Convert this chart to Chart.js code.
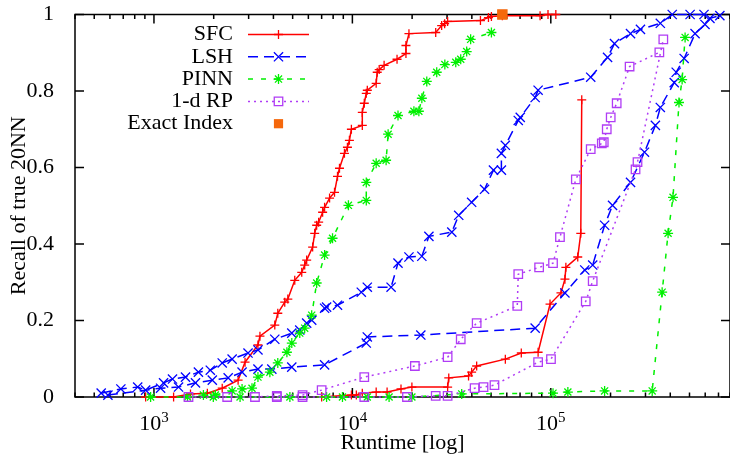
<!DOCTYPE html>
<html>
<head>
<meta charset="utf-8">
<script src="https://cdn.jsdelivr.net/npm/chart.js"></script>
<style>
  body { margin: 0; background: #fff; }
  canvas { display: block; }
</style>
</head>
<body>
<canvas id="myChart" width="730" height="454"></canvas>
<script>
// runtimes and recall, one pair of arrays per curve
const sfcTimeA = [908, 1256, 1528, 1858, 2208, 2655, 2878, 3343, 3421, 4064, 4208, 4561, 4727, 5124, 5556, 5750, 5884, 6305, 6457, 6607, 6761, 7080, 7244, 7674, 8128, 8414, 8610, 9120, 9441, 9661, 9886, 11220, 11220, 11480, 11750, 11890, 13180, 13340, 13650, 14450, 16790, 18620, 18620, 19280, 26300, 28180, 29170, 30200, 44200, 48500, 50200, 57000, 88300, 96800, 106000];
const sfcRecallA = [0, 0, 0.008, 0.010, 0.023, 0.044, 0.091, 0.136, 0.159, 0.188, 0.219, 0.248, 0.256, 0.305, 0.326, 0.345, 0.358, 0.392, 0.428, 0.449, 0.457, 0.483, 0.496, 0.520, 0.535, 0.577, 0.598, 0.637, 0.653, 0.671, 0.700, 0.710, 0.744, 0.768, 0.794, 0.802, 0.820, 0.849, 0.856, 0.867, 0.883, 0.898, 0.919, 0.950, 0.953, 0.971, 0.976, 0.982, 0.984, 0.992, 0.995, 0.997, 0.997, 1, 1];
const sfcTimeB = [7000, 9886, 10470, 11220, 13180, 14960, 17580, 19950, 30200, 30600, 38500, 39900, 42300, 59000, 71000, 86300, 99100, 112500, 117800, 119100, 136700, 141600, 143200];
const sfcRecallB = [0, 0.005, 0.005, 0.010, 0.013, 0.013, 0.021, 0.026, 0.026, 0.050, 0.055, 0.065, 0.081, 0.099, 0.115, 0.117, 0.243, 0.272, 0.308, 0.339, 0.366, 0.428, 0.777];

const lshTimeA = [542, 681, 828, 908, 1118, 1240, 1442, 1675, 1923, 2208, 2477, 2979, 3343, 4064, 4950, 5430, 5884, 6237, 7244, 7413, 8414, 11090, 11890, 15670, 16980, 19280, 22390, 24300, 31700, 34350, 39900, 46350, 51400, 56360, 56360, 59000, 68550, 70150, 83400, 86300, 158900, 193200, 209400, 252200, 283000, 356400, 409200, 503500, 591600];
const lshRecallA = [0.010, 0.021, 0.026, 0.018, 0.037, 0.047, 0.052, 0.065, 0.070, 0.089, 0.099, 0.115, 0.123, 0.151, 0.167, 0.175, 0.193, 0.201, 0.232, 0.235, 0.240, 0.274, 0.287, 0.287, 0.350, 0.366, 0.368, 0.420, 0.431, 0.475, 0.509, 0.543, 0.593, 0.593, 0.637, 0.658, 0.723, 0.731, 0.783, 0.802, 0.836, 0.888, 0.924, 0.950, 0.961, 0.977, 1, 1, 1];
const lshTimeB = [586, 1080, 1330, 1619, 1968, 2366, 2780, 3343, 3926, 4950, 7244, 11750, 11890, 22130, 83400, 117800, 148300, 162600, 186700, 204700, 252200, 296500, 336500, 356400, 418800, 428500, 469900, 533400, 598400, 633900, 711200];
const lshRecallB = [0.005, 0.023, 0.026, 0.037, 0.044, 0.050, 0.065, 0.073, 0.073, 0.078, 0.084, 0.141, 0.157, 0.162, 0.180, 0.272, 0.332, 0.345, 0.449, 0.501, 0.561, 0.640, 0.710, 0.757, 0.822, 0.849, 0.885, 0.950, 0.974, 0.990, 0.997];

const pinnTimeA = [962, 1476, 1775, 2038, 2477, 2780, 3119, 3343, 3838, 4208, 4677, 4950, 5430, 5750, 6237, 6607, 7244, 7943, 9550, 11750, 11750, 13180, 14790, 15140, 16980, 20420, 21630, 22390, 23710, 26610, 29240, 33190, 35160, 37670, 39450, 50200];
const pinnRecallA = [0, 0, 0.005, 0.005, 0.016, 0.021, 0.023, 0.052, 0.065, 0.089, 0.117, 0.141, 0.167, 0.180, 0.214, 0.298, 0.371, 0.415, 0.501, 0.514, 0.561, 0.611, 0.619, 0.687, 0.736, 0.747, 0.747, 0.781, 0.825, 0.849, 0.869, 0.875, 0.883, 0.903, 0.935, 0.953];
const pinnTimeB = [1991, 2716, 4842, 7413, 8913, 11890, 15310, 19950, 35560, 102600, 121900, 186700, 324300, 364000, 390000, 413000, 442600, 459000, 475100];
const pinnRecallB = [0, 0, 0, 0, 0, 0, 0, 0, 0.008, 0.010, 0.013, 0.016, 0.016, 0.274, 0.428, 0.522, 0.770, 0.830, 0.940];

const rpTimeA = [1493, 2339, 3229, 4161, 5610, 7000, 11480, 20650, 30200, 35160, 42300, 67760, 68550, 87300, 102600, 111200, 133700, 158900, 180700, 184900, 191400, 200400, 214800, 249500, 352400];
const rpRecallA = [0, 0, 0, 0.003, 0.005, 0.018, 0.052, 0.081, 0.104, 0.151, 0.193, 0.238, 0.321, 0.339, 0.350, 0.418, 0.569, 0.648, 0.663, 0.666, 0.700, 0.731, 0.768, 0.864, 0.901];
const rpTimeB = [4161, 5610, 11480, 18840, 26300, 30200, 41300, 45800, 52000, 86300, 100200, 150000, 162600, 267300, 273500, 369000];
const rpRecallB = [0, 0, 0, 0, 0.003, 0.003, 0.023, 0.026, 0.031, 0.091, 0.099, 0.250, 0.303, 0.595, 0.614, 0.935];

const exactTime = [57000];
const exactRecall = [1];

const seriesNames = ['SFC', 'LSH', 'PINN', '1-d RP', 'Exact Index'];
const xDecadeTicks = [1000, 10000, 100000];
const yTickValues = [0, 0.2, 0.4, 0.6, 0.8, 1];

const FONT = '"Liberation Serif", "Times New Roman", serif';

const styles = {
    'SFC': { color: '#ff0000', dash: [], marker: 'cross', r: 4.5 },
    'LSH': { color: '#0000ff', dash: [10, 6], marker: 'crossRot', r: 6.5 },
    'PINN': { color: '#00f000', dash: [5, 8], marker: 'star', r: 5 },
    '1-d RP': { color: '#b03cf5', dash: [2, 4], marker: 'rect', r: 6 },
    'Exact Index': { color: '#f5680c', dash: [], marker: 'rect', r: 6.5, filled: true }
};

function curve(name, times, recall, order) {
    const s = styles[name];
    return {
        label: name,
        data: times.map((t, i) => ({ x: t, y: recall[i] })),
        borderColor: s.color,
        borderWidth: 1.5,
        borderDash: s.dash,
        showLine: name !== 'Exact Index',
        pointStyle: s.marker,
        pointRadius: s.r,
        pointHoverRadius: s.r,
        pointBorderWidth: 1.3,
        pointBorderColor: s.color,
        pointBackgroundColor: s.filled ? s.color : 'rgba(0,0,0,0)',
        clip: false,
        order: order
    };
}

// draw one legend marker by hand
function marker(ctx, s, x, y) {
    ctx.beginPath();
    const r = s.r;
    if (s.marker === 'cross' || s.marker === 'star') {
        ctx.moveTo(x - r, y); ctx.lineTo(x + r, y);
        ctx.moveTo(x, y - r); ctx.lineTo(x, y + r);
    }
    if (s.marker === 'crossRot' || s.marker === 'star') {
        const d = r * Math.SQRT1_2;
        ctx.moveTo(x - d, y - d); ctx.lineTo(x + d, y + d);
        ctx.moveTo(x - d, y + d); ctx.lineTo(x + d, y - d);
    }
    if (s.marker === 'rect') {
        const h = r * Math.SQRT1_2;
        ctx.rect(x - h, y - h, 2 * h, 2 * h);
        if (s.filled) { ctx.fillStyle = s.color; ctx.fill(); return; }
    }
    ctx.stroke();
}

// keep the plot box where the reference has it
function noPad(scale) {
    scale.paddingTop = 0;
    scale.paddingBottom = 0;
    scale.paddingLeft = 0;
    scale.paddingRight = 0;
}

const framePlugin = {
    id: 'frame',
    beforeDatasetsDraw(chart) {
        const { ctx, chartArea: a, scales: { x, y } } = chart;
        ctx.save();
        ctx.strokeStyle = '#000';
        ctx.lineWidth = 1.5;
        ctx.strokeRect(a.left, a.top, a.right - a.left, a.bottom - a.top);

        // inward ticks, mirrored on all four sides
        ctx.beginPath();
        for (let d = 100; d <= 1e6; d *= 10) {
            for (let k = 1; k <= 9; k++) {
                const v = k * d;
                if (v < x.min || v > x.max) continue;
                const px = x.getPixelForValue(v);
                const len = k === 1 ? 9 : 4.5;
                ctx.moveTo(px, a.bottom); ctx.lineTo(px, a.bottom - len);
                ctx.moveTo(px, a.top); ctx.lineTo(px, a.top + len);
            }
        }
        yTickValues.forEach(v => {
            const py = y.getPixelForValue(v);
            ctx.moveTo(a.left, py); ctx.lineTo(a.left + 9, py);
            ctx.moveTo(a.right, py); ctx.lineTo(a.right - 9, py);
        });
        ctx.stroke();

        // x tick labels as 10 with a raised exponent
        ctx.fillStyle = '#000';
        ctx.textBaseline = 'alphabetic';
        ctx.textAlign = 'left';
        xDecadeTicks.forEach(v => {
            const px = x.getPixelForValue(v);
            const exp = String(Math.round(Math.log10(v)));
            ctx.font = '22px ' + FONT;
            const w1 = ctx.measureText('10').width;
            ctx.font = '15px ' + FONT;
            const w2 = ctx.measureText(exp).width;
            const x0 = px - (w1 + w2) / 2;
            ctx.font = '22px ' + FONT;
            ctx.fillText('10', x0, a.bottom + 33);
            ctx.font = '15px ' + FONT;
            ctx.fillText(exp, x0 + w1, a.bottom + 24.5);
        });
        ctx.restore();
    },
    afterDraw(chart) {
        const ctx = chart.ctx;
        ctx.save();
        ctx.font = '22px ' + FONT;
        ctx.textAlign = 'right';
        ctx.textBaseline = 'middle';
        seriesNames.forEach((name, i) => {
            const s = styles[name];
            const yy = 34.5 + i * 22.3;
            ctx.fillStyle = '#000';
            ctx.fillText(name, 233, yy);
            ctx.strokeStyle = s.color;
            ctx.lineWidth = 1.5;
            if (name !== 'Exact Index') {
                ctx.setLineDash(s.dash);
                ctx.beginPath();
                ctx.moveTo(248, yy); ctx.lineTo(309, yy);
                ctx.stroke();
                ctx.setLineDash([]);
            }
            ctx.lineWidth = 1.3;
            marker(ctx, s, 278.5, yy);
        });
        ctx.restore();
    }
};

const ctx = document.getElementById('myChart');

new Chart(ctx, {
    type: 'line',
    data: {
        datasets: [
            curve('SFC', sfcTimeA, sfcRecallA, 5),
            curve('SFC', sfcTimeB, sfcRecallB, 5),
            curve('LSH', lshTimeA, lshRecallA, 4),
            curve('LSH', lshTimeB, lshRecallB, 4),
            curve('PINN', pinnTimeA, pinnRecallA, 3),
            curve('PINN', pinnTimeB, pinnRecallB, 3),
            curve('1-d RP', rpTimeA, rpRecallA, 2),
            curve('1-d RP', rpTimeB, rpRecallB, 2),
            curve('Exact Index', exactTime, exactRecall, 1)
        ]
    },
    options: {
        responsive: false,
        animation: false,
        devicePixelRatio: 1,
        layout: { autoPadding: false, padding: { top: 14.5, right: -3, bottom: 0, left: 0 } },
        plugins: {
            legend: { display: false },
            tooltip: { enabled: false }
        },
        scales: {
            x: {
                type: 'logarithmic',
                min: 400,
                max: 800000,
                grid: { display: false },
                border: { display: false },
                ticks: { display: false },
                title: {
                    display: true,
                    text: 'Runtime [log]',
                    color: '#000',
                    font: { family: FONT, size: 22, lineHeight: 1 },
                    padding: { top: 0, bottom: 0 }
                },
                afterFit: scale => { scale.height = 57; noPad(scale); }
            },
            y: {
                min: 0,
                max: 1,
                grid: { display: false },
                border: { display: false },
                ticks: {
                    stepSize: 0.2,
                    padding: 13,
                    color: '#000',
                    font: { family: FONT, size: 22 },
                    callback: v => String(+v.toFixed(1))
                },
                title: {
                    display: true,
                    text: 'Recall of true 20NN',
                    color: '#000',
                    font: { family: FONT, size: 22, lineHeight: 1 },
                    padding: { top: 8.5, bottom: 0 }
                },
                afterFit: scale => { scale.width = 75; noPad(scale); }
            }
        }
    },
    plugins: [framePlugin]
});
</script>
</body>
</html>
